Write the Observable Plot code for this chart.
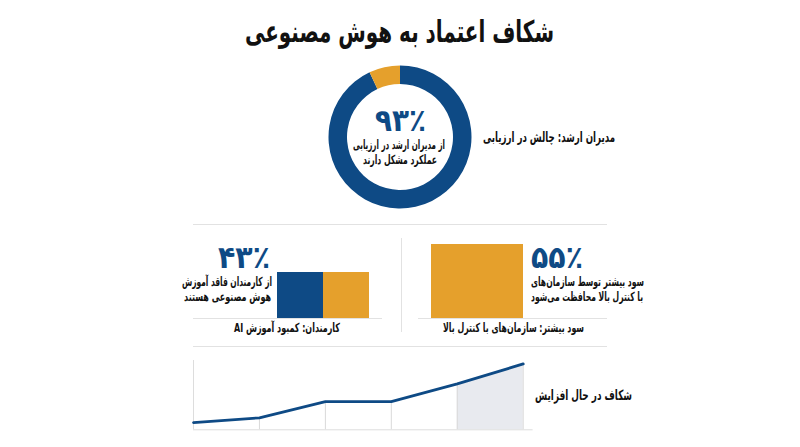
<!DOCTYPE html>
<html lang="fa">
<head>
<meta charset="utf-8">
<script src="https://cdn.jsdelivr.net/npm/d3@7"></script>
<script src="https://cdn.jsdelivr.net/npm/@observablehq/plot@0.6"></script>
<style>
html,body{margin:0;padding:0;background:#fff}
#page{position:relative;width:800px;height:447px;overflow:hidden;background:#fff;font-family:"DejaVu Sans Condensed","DejaVu Sans",sans-serif;color:#111}
.panel{position:absolute}
.panel svg{display:block;background:transparent}
.t{position:absolute;direction:rtl;white-space:nowrap;font-weight:700;line-height:1}
</style>
</head>
<body>
<div id="page"></div>
<script>
const BLUE = "#0e4a85", ORANGE = "#e5a02c", RULE = "#e2e2e2", SHADE = "#e8eaef";

const donutLabels = ["چالش", "سایر"];
const donutValues = [93, 7];

const gapCategories = ["فاقد آموزش", "دارای آموزش"];
const gapHeights = [43, 43];
const gapColors = [BLUE, ORANGE];

const profitCategories = ["کنترل بالا"];
const profitValues = [55];

const trendSteps = [0, 1, 2, 3, 4, 5];
const trendValues = [10.5, 17.3, 40.8, 40.8, 66.3, 95];
const trendShadeSteps = [4, 5];

// Each text: horizontal span [x0, x1] it fills, vertical centre, font size
const texts = [
  {s:"شکاف اعتماد به هوش مصنوعی", x0:245, x1:554, cy:32, size:30},
  {s:"مدیران ارشد: چالش در ارزیابی", x0:483, x1:615, cy:137, size:14},
  {s:"۹۳٪", x0:375, x1:426, cy:120, size:31, color:BLUE},
  {s:"از مدیران ارشد در ارزیابی", x0:353, x1:445, cy:145, size:12.5},
  {s:"عملکرد مشکل دارند", x0:363, x1:437, cy:160, size:12.5},
  {s:"۴۳٪", x0:218, x1:270, cy:257, size:31, color:BLUE},
  {s:"از کارمندان فاقد آموزش", x0:182, x1:272, cy:282, size:12.5},
  {s:"هوش مصنوعی هستند", x0:184, x1:271, cy:297, size:12.5},
  {s:"کارمندان: کمبود آموزش AI", x0:234, x1:340, cy:328, size:12.5},
  {s:"۵۵٪", x0:531, x1:583, cy:257, size:31, color:BLUE},
  {s:"سود بیشتر توسط سازمان‌های", x0:531, x1:644, cy:282, size:12.5},
  {s:"با کنترل بالا محافظت می‌شود", x0:531, x1:643, cy:297, size:12.5},
  {s:"سود بیشتر: سازمان‌های با کنترل بالا", x0:443, x1:584, cy:328, size:12.5},
  {s:"شکاف در حال افزایش", x0:535, x1:632, cy:395, size:14}
];

const page = document.getElementById("page");
function place(svg, left, top) {
  const d = document.createElement("div");
  d.className = "panel";
  d.style.left = left + "px";
  d.style.top = top + "px";
  d.append(svg);
  page.append(d);
}
const base = {margin:0, x:{axis:null}, y:{axis:null}};

// Donut
const donutMark = (index, scales, values, dim) => {
  const arcs = d3.pie().sort(null)(donutValues);
  const arc = d3.arc().innerRadius(53).outerRadius(71.5);
  const g = d3.create("svg:g").attr("transform", `translate(${dim.width/2},${dim.height/2})`);
  g.selectAll("path").data(arcs).join("path")
    .attr("d", arc)
    .attr("fill", (d,i) => i === 0 ? BLUE : ORANGE);
  return g.node();
};
place(Plot.plot({width:150, height:150, margin:0, marks:[donutMark]}), 325, 62);

// Section rules
const hr = (l,t,w) => place(Plot.plot({...base, width:w, height:2, x:{axis:null,domain:[0,1],range:[0,w]}, y:{axis:null,domain:[0,1],range:[2,0]},
  marks:[Plot.ruleY([0.5],{x1:0,x2:1,stroke:RULE,strokeWidth:1})]}), l, t);
hr(193,223,414);
hr(193,345,414);
place(Plot.plot({...base, width:2, height:94, x:{axis:null,domain:[0,1],range:[0,2]}, y:{axis:null,domain:[0,1],range:[94,0]},
  marks:[Plot.ruleX([0.5],{y1:0,y2:1,stroke:RULE,strokeWidth:1})]}), 399.5, 238);

// Left bars
place(Plot.plot({...base, width:189, height:60,
  x:{axis:null, domain:[-84,105], range:[0,189]},
  y:{axis:null, domain:[0,43], range:[59,13]},
  marks:[
    Plot.rectY(gapHeights,{x1:(d,i)=>i*46,x2:(d,i)=>(i+1)*46,y:d=>d,fill:(d,i)=>gapColors[i]}),
    Plot.ruleY([0],{stroke:RULE,strokeWidth:1})
  ]}), 193, 259);

// Right bar
place(Plot.plot({...base, width:189, height:88,
  x:{axis:null, domain:[0,189], range:[0,189]},
  y:{axis:null, domain:[0,55], range:[87,13]},
  marks:[
    Plot.rectY(profitValues,{x1:13,x2:105,y:d=>d,fill:ORANGE}),
    Plot.ruleY([0],{stroke:RULE,strokeWidth:1})
  ]}), 418, 231);

// Trend line
const trend = trendSteps.map((x,i)=>({x,y:trendValues[i]}));
place(Plot.plot({...base, width:345, height:80,
  x:{axis:null, domain:[0,5], range:[1,330.7]},
  y:{axis:null, domain:[0,100], range:[70.3,1]},
  marks:[
    Plot.areaY(trend.filter(d=>trendShadeSteps.includes(d.x)),{x:"x",y:"y",fill:SHADE}),
    Plot.ruleX(trend.slice(1),{x:"x",y1:0,y2:"y",stroke:"#d9d9d9",strokeWidth:1}),
    Plot.ruleX([0],{y1:0,y2:100,stroke:"#dddddd",strokeWidth:1}),
    Plot.ruleY([0],{x1:0,x2:5.15,stroke:"#dddddd",strokeWidth:1}),
    Plot.line(trend,{x:"x",y:"y",stroke:BLUE,strokeWidth:2.8,strokeLinejoin:"round"})
  ]}), 192, 359);

// Text, fitted to its span
for (const t of texts) {
  const el = document.createElement("div");
  el.className = "t";
  el.textContent = t.s;
  el.style.fontSize = t.size + "px";
  el.style.left = t.x0 + "px";
  el.style.top = t.cy + "px";
  if (t.color) el.style.color = t.color;
  page.append(el);
  const k = (t.x1 - t.x0) / el.getBoundingClientRect().width;
  el.style.transformOrigin = "0 50%";
  el.style.transform = `translateY(-50%) scaleX(${k})`;
}
</script>
</body>
</html>
